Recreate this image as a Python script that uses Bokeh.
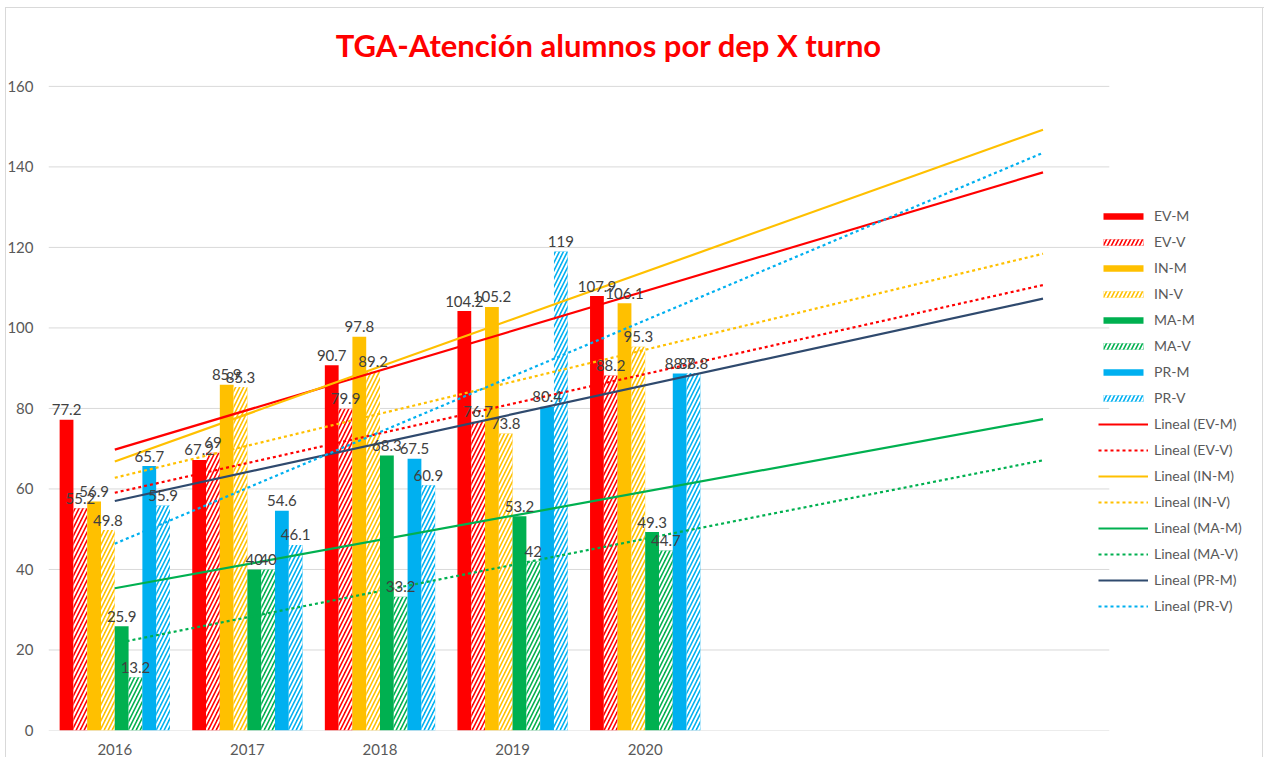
import numpy as np
from bokeh.plotting import figure
from bokeh.models import Range1d, FixedTicker, Label, Legend, LegendItem, ColumnDataSource
from bokeh.core.properties import value
from bokeh.embed import file_html
from bokeh.resources import INLINE

# ---------------- data ----------------
years = [2016, 2017, 2018, 2019, 2020]
series_names = ["EV-M", "EV-V", "IN-M", "IN-V", "MA-M", "MA-V", "PR-M", "PR-V"]
ev_m = [77.2, 67.2, 90.7, 104.2, 107.9]
ev_v = [55.2, 69.0, 79.9, 76.7, 88.2]
in_m = [56.9, 85.9, 97.8, 105.2, 106.1]
in_v = [49.8, 85.3, 89.2, 73.8, 95.3]
ma_m = [25.9, 40.0, 68.3, 53.2, 49.3]
ma_v = [13.2, 40.0, 33.2, 42.0, 44.7]
pr_m = [65.7, 54.6, 67.5, 80.4, 88.7]
pr_v = [55.9, 46.1, 60.9, 119.0, 88.8]
y_ticks = [0, 20, 40, 60, 80, 100, 120, 140, 160]
forecast_periods = 3
title_text = "TGA-Atención alumnos por dep  X turno"

all_series = [ev_m, ev_v, in_m, in_v, ma_m, ma_v, pr_m, pr_v]
bar_colors = ["#FF0000", "#FF0000", "#FFC000", "#FFC000",
              "#00B050", "#00B050", "#00B0F0", "#00B0F0"]
trend_colors = ["#FF0000", "#FF0000", "#FFC000", "#FFC000",
                "#00B050", "#00B050", "#2F4A6E", "#00B0F0"]
hatched = [False, True, False, True, False, True, False, True]

FONT = "Lato"
GREY = "#595959"

# geometry of the plotting frame (pixels)
W, H = 1264, 757
LEFT, BOTTOM = 48, 26
frame_w, frame_h = W - LEFT, H - BOTTOM
cat_px = 132.6                       # pixels per category
val_px = 645.0 / 160.0               # pixels per unit value
n_cat = len(years) + forecast_periods

p = figure(width=W, height=H, output_backend="svg", toolbar_location=None,
           x_range=Range1d(0.5, 0.5 + frame_w / cat_px),
           y_range=Range1d(0, frame_h / val_px),
           min_border_left=LEFT, min_border_right=0, min_border_top=0,
           min_border_bottom=BOTTOM)
# light chart-area border (left, top, right) drawn behind a transparent canvas
p.background_fill_alpha = 0
p.border_fill_alpha = 0
_ln = "linear-gradient(#d9d9d9, #d9d9d9)"
p.styles = {
    "background-color": "white",
    "background-image": f"{_ln}, {_ln}, {_ln}",
    "background-size": "1px 100%, 100% 1px, 1px 100%",
    "background-position": "5px 7px, 5px 7px, 1262px 7px",
    "background-repeat": "no-repeat",
}
p.outline_line_color = None
p.xgrid.grid_line_color = None
p.ygrid.grid_line_color = None

# horizontal gridlines limited to the category area
p.segment(x0=0.5, x1=n_cat + 0.5, y0=y_ticks, y1=y_ticks,
          line_color="#d9d9d9", line_width=1)

p.yaxis.ticker = FixedTicker(ticks=y_ticks)
p.yaxis.axis_line_color = None
p.yaxis.major_tick_line_color = None
p.yaxis.minor_tick_line_color = None
p.yaxis.major_label_standoff = 9
p.yaxis.major_label_text_font = FONT
p.yaxis.major_label_text_font_size = "15px"
p.yaxis.major_label_text_color = GREY

xpos = [i + 1 for i in range(len(years))]
p.xaxis.ticker = FixedTicker(ticks=xpos)
p.xaxis.major_label_overrides = {x: str(y) for x, y in zip(xpos, years)}
p.xaxis.axis_line_color = None
p.xaxis.major_tick_line_color = None
p.xaxis.minor_tick_line_color = None
p.xaxis.major_label_standoff = 7
p.xaxis.major_label_text_font = FONT
p.xaxis.major_label_text_font_size = "15px"
p.xaxis.major_label_text_color = GREY

bw = 0.104
n = len(series_names)
bar_items = []
lab_x, lab_y, lab_t = [], [], []
for i, (name, vals) in enumerate(zip(series_names, all_series)):
    off = (i - (n - 1) / 2) * bw
    xs = [x + off for x in xpos]
    src = ColumnDataSource(dict(x=xs, top=vals))
    kw = dict(x="x", top="top", width=bw, source=src, fill_color=bar_colors[i], line_color=None)
    if hatched[i]:
        kw.update(hatch_pattern="right_diagonal_line", hatch_color="white",
                  hatch_scale=8, hatch_weight=2)
    r = p.vbar(**kw)
    bar_items.append(LegendItem(label=name, renderers=[r]))
    lab_x += xs
    lab_y += vals
    lab_t += [f"{v:g}" for v in vals]

# trend lines (linear least squares, forecast forward)
trend_items = []
xt = np.array([1, n_cat], dtype=float)
for i, (name, vals) in enumerate(zip(series_names, all_series)):
    k, b = np.polyfit(np.array(xpos, dtype=float), np.array(vals), 1)
    dash = "solid" if not hatched[i] else "3 3"
    r = p.line(xt, k * xt + b, line_color=trend_colors[i], line_width=2.2, line_dash=dash)
    trend_items.append(LegendItem(label=f"Lineal ({name})", renderers=[r]))

p.text(x=lab_x, y=lab_y, text=lab_t, text_font=value(FONT), text_font_size="15px",
       text_color="#404040", text_align="center", text_baseline="alphabetic", y_offset=-10)

legend = Legend(items=bar_items + trend_items, location=(1050, 114),
                glyph_width=50, glyph_height=8, label_height=21, spacing=5,
                label_standoff=6, padding=0, margin=0,
                border_line_color=None, background_fill_alpha=0,
                label_text_font=FONT, label_text_font_size="14px", label_text_color=GREY)
p.add_layout(legend, "center")

p.add_layout(Label(x=564, y=686, x_units="screen", y_units="screen", text=title_text,
                   text_font=FONT, text_font_style="bold", text_font_size="31px",
                   text_color="#FF0000", text_align="center", text_baseline="middle"))

open("out.html", "w").write(file_html(p, INLINE))
